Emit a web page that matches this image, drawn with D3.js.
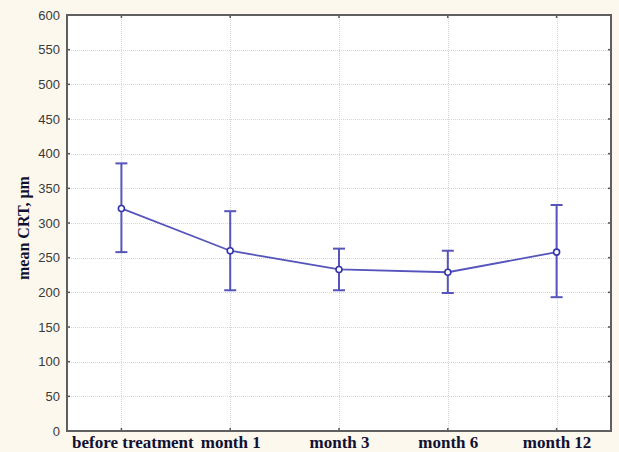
<!DOCTYPE html>
<html>
<head>
<meta charset="utf-8">
<script src="https://cdn.jsdelivr.net/npm/d3@7"></script>
<style>
  html, body { margin: 0; padding: 0; background: #fcf8ed; }
  svg { display: block; }
</style>
</head>
<body>
<svg id="chart" width="619" height="452"></svg>
<script>
// Mean central retinal thickness at each visit, with error bar limits
const visits = ["before treatment", "month 1", "month 3", "month 6", "month 12"];
const meanCRT = [321, 260, 233, 229, 258];
const upperCRT = [386, 317, 263, 260, 326];
const lowerCRT = [258, 203, 203, 199, 193];
const yTicks = [0, 50, 100, 150, 200, 250, 300, 350, 400, 450, 500, 550, 600];

const svg = d3.select("#chart");
const W = 619, H = 452;
const m = { left: 67, right: 8, top: 15, bottom: 21 };
const x0 = m.left, x1 = W - m.right, y0 = H - m.bottom, y1 = m.top;

svg.append("rect").attr("width", W).attr("height", H).attr("fill", "#fcf8ed");

const x = d3.scalePoint().domain(visits).range([x0, x1]).padding(0.5);
const y = d3.scaleLinear().domain([0, 600]).range([y0, y1]);

// plot area
svg.append("rect").attr("x", x0).attr("y", y1).attr("width", x1 - x0).attr("height", y0 - y1)
  .attr("fill", "#ffffff");

// dotted grid
const grid = svg.append("g").attr("stroke", "#d6d6d6").attr("stroke-width", 1).attr("stroke-dasharray", "1,1");
grid.selectAll("line.h").data(yTicks.filter(t => t > 0 && t < 600)).join("line")
  .attr("x1", x0).attr("x2", x1).attr("y1", d => Math.round(y(d)) + 0.5).attr("y2", d => Math.round(y(d)) + 0.5);
grid.selectAll("line.v").data(visits).join("line")
  .attr("x1", d => Math.round(x(d)) + 0.5).attr("x2", d => Math.round(x(d)) + 0.5).attr("y1", y1).attr("y2", y0);

// left axis
const yAxis = d3.axisLeft(y).tickValues(yTicks).tickSize(0).tickPadding(7);
const gy = svg.append("g").attr("transform", `translate(${x0},0)`).call(yAxis);
gy.select(".domain").remove();
gy.selectAll("text").attr("font-family", "Arial, 'Liberation Sans', sans-serif").attr("font-size", 13).attr("fill", "#3a3a3a");

// inward tick marks on all four sides
const tk = svg.append("g").attr("stroke", "#555").attr("stroke-width", 1.5);
tk.selectAll("line.l").data(yTicks).join("line")
  .attr("x1", x0).attr("x2", x0 + 3).attr("y1", d => y(d)).attr("y2", d => y(d));
tk.selectAll("line.r").data(yTicks).join("line")
  .attr("x1", x1 - 3).attr("x2", x1).attr("y1", d => y(d)).attr("y2", d => y(d));
tk.selectAll("line.t").data(visits).join("line")
  .attr("x1", d => x(d)).attr("x2", d => x(d)).attr("y1", y1).attr("y2", y1 + 3);
tk.selectAll("line.b").data(visits).join("line")
  .attr("x1", d => x(d)).attr("x2", d => x(d)).attr("y1", y0 - 3).attr("y2", y0);

// bottom axis labels
const xAxis = d3.axisBottom(x).tickSize(0).tickPadding(5);
const gx = svg.append("g").attr("transform", `translate(0,${y0})`).call(xAxis);
gx.select(".domain").remove();
gx.selectAll("text").attr("font-family", "'Liberation Serif', 'Times New Roman', serif")
  .attr("font-weight", "bold").attr("font-size", 17).attr("fill", "#111133")
  .attr("dx", d => d === visits[0] ? 11 : 0);

// frame
svg.append("rect").attr("x", x0).attr("y", y1).attr("width", x1 - x0).attr("height", y0 - y1)
  .attr("fill", "none").attr("stroke", "#5f5f5f").attr("stroke-width", 2);

// y axis title
svg.append("text")
  .attr("transform", `translate(29,${(y0 + y1) / 2 + 5}) rotate(-90)`)
  .attr("text-anchor", "middle")
  .attr("font-family", "'Liberation Serif', 'Times New Roman', serif")
  .attr("font-weight", "bold").attr("font-size", 16).attr("fill", "#111133")
  .text("mean CRT, µm");

const col = "#5555bb";
const pts = visits.map((v, i) => ({ v, mean: meanCRT[i], hi: upperCRT[i], lo: lowerCRT[i] }));

// error bars
const eb = svg.append("g").attr("stroke", col).attr("stroke-width", 2).attr("fill", "none");
eb.selectAll("line.w").data(pts).join("line")
  .attr("x1", d => x(d.v)).attr("x2", d => x(d.v)).attr("y1", d => y(d.hi)).attr("y2", d => y(d.lo));
eb.selectAll("line.hi").data(pts).join("line")
  .attr("x1", d => x(d.v) - 6).attr("x2", d => x(d.v) + 6).attr("y1", d => y(d.hi)).attr("y2", d => y(d.hi));
eb.selectAll("line.lo").data(pts).join("line")
  .attr("x1", d => x(d.v) - 6).attr("x2", d => x(d.v) + 6).attr("y1", d => y(d.lo)).attr("y2", d => y(d.lo));

// mean line
svg.append("path").datum(pts)
  .attr("d", d3.line().x(d => x(d.v)).y(d => y(d.mean)))
  .attr("fill", "none").attr("stroke", col).attr("stroke-width", 1.8);

// mean markers
svg.append("g").selectAll("circle").data(pts).join("circle")
  .attr("cx", d => x(d.v)).attr("cy", d => y(d.mean)).attr("r", 3)
  .attr("fill", "#ffffff").attr("stroke", "#3333aa").attr("stroke-width", 1.6);
</script>
</body>
</html>
